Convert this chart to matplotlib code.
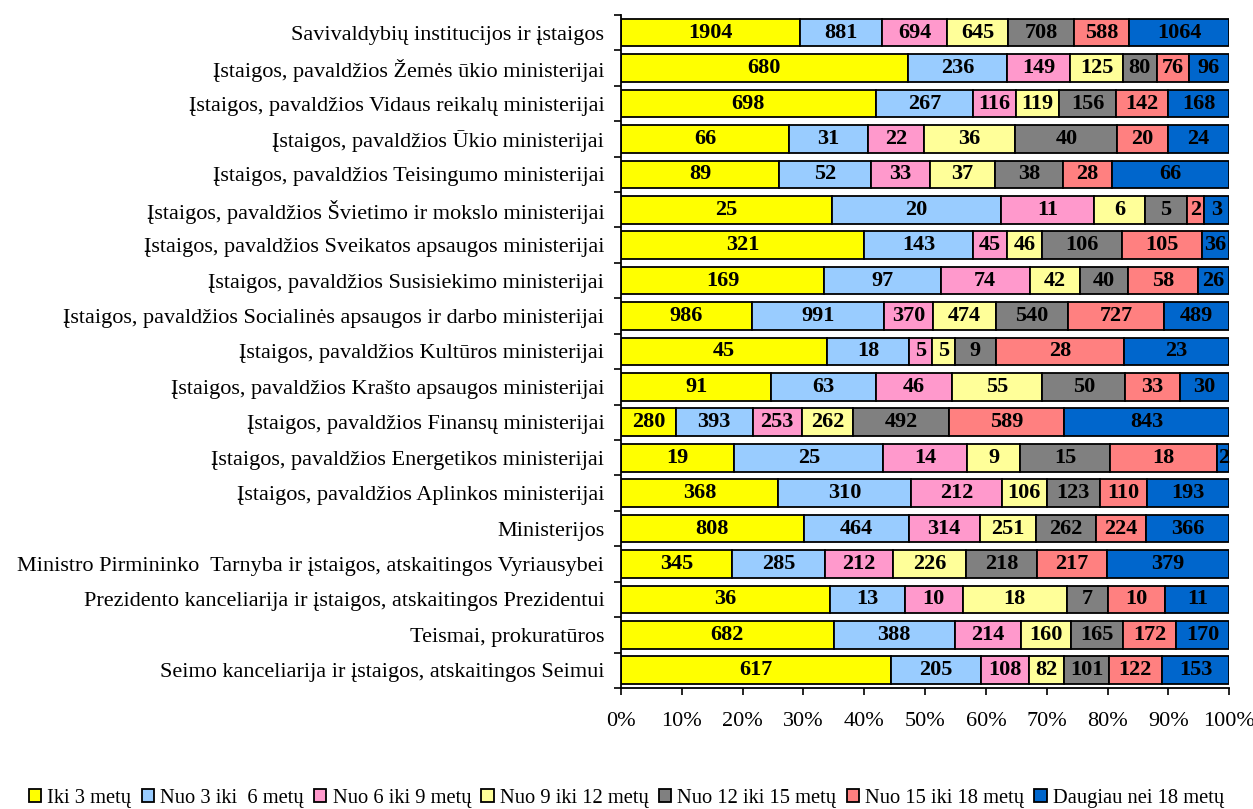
import matplotlib
matplotlib.use("Agg")
import matplotlib.pyplot as plt
import numpy as np

categories = [
    "Savivaldybių institucijos ir įstaigos",
    "Įstaigos, pavaldžios Žemės ūkio ministerijai",
    "Įstaigos, pavaldžios Vidaus reikalų ministerijai",
    "Įstaigos, pavaldžios Ūkio ministerijai",
    "Įstaigos, pavaldžios Teisingumo ministerijai",
    "Įstaigos, pavaldžios Švietimo ir mokslo ministerijai",
    "Įstaigos, pavaldžios Sveikatos apsaugos ministerijai",
    "Įstaigos, pavaldžios Susisiekimo ministerijai",
    "Įstaigos, pavaldžios Socialinės apsaugos ir darbo ministerijai",
    "Įstaigos, pavaldžios Kultūros ministerijai",
    "Įstaigos, pavaldžios Krašto apsaugos ministerijai",
    "Įstaigos, pavaldžios Finansų ministerijai",
    "Įstaigos, pavaldžios Energetikos ministerijai",
    "Įstaigos, pavaldžios Aplinkos ministerijai",
    "Ministerijos",
    "Ministro Pirmininko  Tarnyba ir įstaigos, atskaitingos Vyriausybei",
    "Prezidento kanceliarija ir įstaigos, atskaitingos Prezidentui",
    "Teismai, prokuratūros",
    "Seimo kanceliarija ir įstaigos, atskaitingos Seimui",
]

series_names = [
    "Iki 3 metų",
    "Nuo 3 iki  6 metų",
    "Nuo 6 iki 9 metų",
    "Nuo 9 iki 12 metų",
    "Nuo 12 iki 15 metų",
    "Nuo 15 iki 18 metų",
    "Daugiau nei 18 metų",
]

iki_3 =      [1904, 680, 698, 66, 89, 25, 321, 169, 986, 45, 91, 280, 19, 368, 808, 345, 36, 682, 617]
nuo_3_6 =    [881, 236, 267, 31, 52, 20, 143, 97, 991, 18, 63, 393, 25, 310, 464, 285, 13, 388, 205]
nuo_6_9 =    [694, 149, 116, 22, 33, 11, 45, 74, 370, 5, 46, 253, 14, 212, 314, 212, 10, 214, 108]
nuo_9_12 =   [645, 125, 119, 36, 37, 6, 46, 42, 474, 5, 55, 262, 9, 106, 251, 226, 18, 160, 82]
nuo_12_15 =  [708, 80, 156, 40, 38, 5, 106, 40, 540, 9, 50, 492, 15, 123, 262, 218, 7, 165, 101]
nuo_15_18 =  [588, 76, 142, 20, 28, 2, 105, 58, 727, 28, 33, 589, 18, 110, 224, 217, 10, 172, 122]
daugiau_18 = [1064, 96, 168, 24, 66, 3, 36, 26, 489, 23, 30, 843, 2, 193, 366, 379, 11, 170, 153]

colors = ["#FFFF00", "#99CCFF", "#FF99CC", "#FFFF99", "#808080", "#FF8080", "#0066CC"]

plt.rcParams['font.family'] = ['Liberation Serif', 'DejaVu Serif']

data = np.array([iki_3, nuo_3_6, nuo_6_9, nuo_9_12, nuo_12_15, nuo_15_18, daugiau_18], dtype=float)
totals = data.sum(axis=0)
pct = data / totals * 100

fig = plt.figure(figsize=(12.53, 8.09), dpi=100)
ax = fig.add_axes([0.4956, 0.1496, 0.4854, 0.8319])

y = np.arange(len(categories))
left = np.zeros(len(categories))
fs = 16
handles = []
for i, name in enumerate(series_names):
    bars = ax.barh(y, pct[i], left=left, height=0.78, color=colors[i], edgecolor="black",
                   linewidth=1.3, label=name)
    handles.append(bars)
    for j in range(len(categories)):
        ax.text(left[j] + pct[i][j] / 2, y[j], f"{int(data[i][j])}", ha="center", va="center",
                fontsize=fs, fontweight="bold", color="black")
    left += pct[i]

ax.set_xlim(0, 100)
ax.set_ylim(len(categories) - 0.5, -0.5)
ax.set_yticks(y)
ax.set_yticklabels(categories, fontsize=fs)
ax.tick_params(axis="y", which="major", length=0, pad=12)
ax.set_yticks(np.arange(-0.5, len(categories), 1), minor=True)
ax.tick_params(axis="y", which="minor", length=5, width=1.2, direction="out")
ax.set_xticks(np.arange(0, 101, 10))
ax.set_xticklabels([f"{v}%" for v in range(0, 101, 10)], fontsize=fs)
ax.tick_params(axis="x", length=5, width=1.2, pad=12)
for s in ["top", "right"]:
    ax.spines[s].set_visible(False)
for s in ["left", "bottom"]:
    ax.spines[s].set_linewidth(1.3)

leg = ax.legend(handles, series_names, loc="center", bbox_to_anchor=(0.5, 0.013),
                bbox_transform=fig.transFigure, ncol=7, frameon=False, fontsize=14.8,
                handlelength=0.6, handleheight=0.6, handletextpad=0.3, columnspacing=0.5,
                borderaxespad=0, borderpad=0.1)

fig.savefig("out.png", dpi=100)
